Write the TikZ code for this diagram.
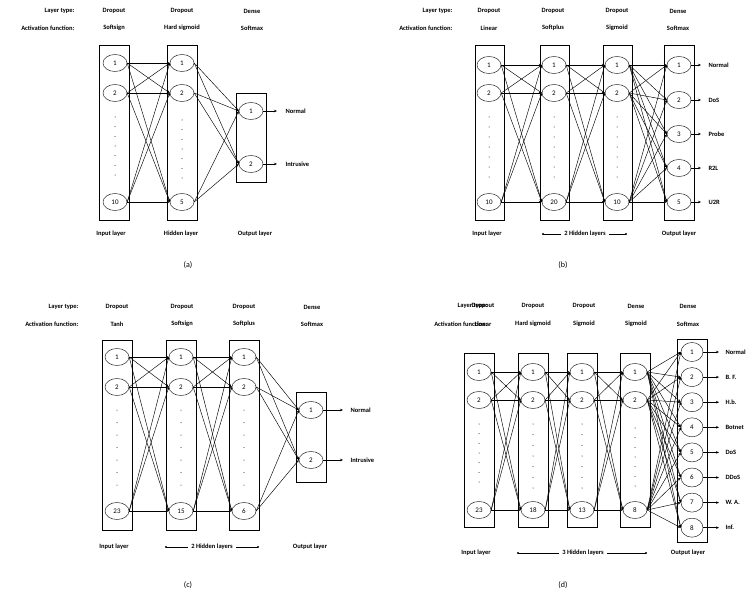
\documentclass[tikz,border=0pt]{standalone}
\usepackage{fontspec}
\setmainfont{Carlito}
\usetikzlibrary{arrows.meta,shapes.geometric}
\begin{document}
\begin{tikzpicture}[x=1pt,y=-1pt,
  neu/.style={draw,ellipse,minimum width=24pt,minimum height=17pt,inner sep=0pt,font=\fontsize{7}{8}\selectfont},
  neo/.style={neu,minimum width=22pt,minimum height=19pt},
  lbl/.style={font=\bfseries\fontsize{6.5}{8}\selectfont},
  captxt/.style={font=\fontsize{8}{10}\selectfont\rmfamily},
  con/.style={-{Stealth[length=3pt,width=2.5pt]},line width=0.45pt},
  box/.style={line width=0.7pt}]
\path[use as bounding box] (0,0) rectangle (752,599);
\newcommand\dotsat[3]{\foreach \k in {0,...,6}{\fill (#1,{#2+\k*(#3-#2)/6}) circle (0.5);}}
% ===== (a)
\node[lbl,anchor=east] (ta) at (78,11) {Layer type:};
\node[lbl,anchor=east] (fa) at (78,28) {Activation function:};
\foreach \x/\t/\f [count=\c] in {114/Dropout/Softsign,182/Dropout/Hard sigmoid,252/Dense/Softmax}{
  \node[lbl] (at\c) at (\x,11) {\t}; \node[lbl] (af\c) at (\x,28) {\f};}
\draw[box] (99,45) rectangle (129,220);
\draw[box] (167,45) rectangle (197,220);
\draw[box] (236,93) rectangle (266,182);
\foreach \y/\l [count=\i] in {63/1,93/2,202/10} \node[neu] (a0\i) at (115,\y) {\l};
\foreach \y/\l [count=\i] in {63/1,93/2,202/5} \node[neu] (a1\i) at (182,\y) {\l};
\foreach \y/\l [count=\i] in {111/1,164/2} \node[neu] (a2\i) at (251,\y) {\l};
\dotsat{115}{117}{175}\dotsat{182}{120}{178}
\foreach \i in {1,2,3}{\foreach \j in {1,2,3}{\draw[con] (a0\i.east) -- (a1\j.west);}
  \foreach \j in {1,2}{\draw[con] (a1\i.east) -- (a2\j.west);}}
\coordinate (ae1) at (277,111); \coordinate (ae2) at (277,164);
\draw[con] (a21.east) -- (ae1); \draw[con] (a22.east) -- (ae2);
\node[lbl,anchor=west] (an1) at (282,111) {Normal};
\node[lbl,anchor=west] (an2) at (282,164) {Intrusive};
\node[lbl] (ab1) at (111,234) {Input layer};
\node[lbl] (ab2) at (181,234) {Hidden layer};
\node[lbl] (ab3) at (255,234) {Output layer};
\node[captxt] (ca) at (188,265) {(a)};
% ===== (b)
\node[lbl,anchor=east] (tb) at (456,11) {Layer type:};
\node[lbl,anchor=east] (fb) at (456,28) {Activation function:};
\foreach \x/\t/\f [count=\c] in {489/Dropout/Linear,553/Dropout/Softplus,617/Dropout/Sigmoid,678/Dense/Softmax}{
  \node[lbl] (bt\c) at (\x,11) {\t}; \node[lbl] (bf\c) at (\x,28) {\f};}
\foreach \x in {475,540,603}{\draw[box] (\x,45) rectangle (\x+29,220);}
\draw[box] (664,45) rectangle (694,220);
\foreach \y/\l [count=\i] in {65/1,93/2,202/10} \node[neu] (b0\i) at (489,\y) {\l};
\foreach \y/\l [count=\i] in {65/1,93/2,202/20} \node[neu] (b1\i) at (554,\y) {\l};
\foreach \y/\l [count=\i] in {65/1,93/2,202/10} \node[neu] (b2\i) at (617,\y) {\l};
\foreach \y/\l [count=\i] in {65/1,100/2,134/3,168/4,202/5} \node[neu] (b3\i) at (679,\y) {\l};
\dotsat{489}{117}{177}\dotsat{554}{117}{177}\dotsat{617}{117}{177}
\foreach \i in {1,2,3}{\foreach \j in {1,2,3}{\draw[con] (b0\i.east) -- (b1\j.west);\draw[con] (b1\i.east) -- (b2\j.west);}
  \foreach \j in {1,...,5}{\draw[con] (b2\i.east) -- (b3\j.west);}}
\foreach \y/\t [count=\i] in {65/Normal,100/DoS,134/Probe,168/R2L,202/U2R}{
  \coordinate (be\i) at (701,\y); \draw[con] (b3\i.east) -- (be\i);
  \node[lbl,anchor=west] (bn\i) at (705,\y) {\t};}
\node[lbl] (bb1) at (487,234) {Input layer};
\node[lbl] (bb2) at (585,234) {2 Hidden layers};
\coordinate (bl1) at (543,234); \coordinate (bl2) at (626,234);
\draw (bl1) -- (bb2.west) (bb2.east) -- (bl2);
\fill (bl1) circle (1.2) (bl2) circle (1.2);
\node[lbl] (bb3) at (679,234) {Output layer};
\node[captxt] (cb) at (563,265) {(b)};
% ===== (c)
\node[lbl,anchor=east] (tc) at (82,307) {Layer type:};
\node[lbl,anchor=east] (fc) at (82,324) {Activation function:};
\foreach \x/\t/\f [count=\c] in {117/Dropout/Tanh,182/Dropout/Softsign,244/Dropout/Softplus,312/Dense/Softmax}{
  \node[lbl] (ct\c) at (\x,307) {\t}; \node[lbl] (cf\c) at (\x,324) {\f};}
\foreach \x in {102,166,229}{\draw[box] (\x,340) rectangle (\x+30,530);}
\draw[box] (296,392) rectangle (326,482);
\foreach \y/\l [count=\i] in {357/1,387/2,511/23} \node[neu] (c0\i) at (117,\y) {\l};
\foreach \y/\l [count=\i] in {357/1,387/2,511/15} \node[neu] (c1\i) at (181,\y) {\l};
\foreach \y/\l [count=\i] in {357/1,387/2,511/6} \node[neu] (c2\i) at (244,\y) {\l};
\foreach \y/\l [count=\i] in {410/1,460/2} \node[neu] (c3\i) at (311,\y) {\l};
\dotsat{117}{410}{485}\dotsat{181}{410}{485}\dotsat{244}{410}{485}
\foreach \i in {1,2,3}{\foreach \j in {1,2,3}{\draw[con] (c0\i.east) -- (c1\j.west);\draw[con] (c1\i.east) -- (c2\j.west);}
  \foreach \j in {1,2}{\draw[con] (c2\i.east) -- (c3\j.west);}}
\foreach \y/\t [count=\i] in {410/Normal,460/Intrusive}{
  \coordinate (ce\i) at (343,\y); \draw[con] (c3\i.east) -- (ce\i);
  \node[lbl,anchor=west] (cn\i) at (347,\y) {\t};}
\node[lbl] (cb1) at (114,547) {Input layer};
\node[lbl] (cb2) at (212,547) {2 Hidden layers};
\coordinate (cl1) at (166,547); \coordinate (cl2) at (258,547);
\draw (cl1) -- (cb2.west) (cb2.east) -- (cl2);
\fill (cl1) circle (1.2) (cl2) circle (1.2);
\node[lbl] (cb3) at (310,547) {Output layer};
\node[captxt] (cc) at (188,585) {(c)};
% ===== (d)
\node[lbl,anchor=east] (td) at (491,306) {Layer type:};
\node[lbl,anchor=east] (fd) at (491,324) {Activation function:};
\foreach \x/\t/\f [count=\c] in {483/Dropout/Linear,533/Dropout/Hard sigmoid,584/Dropout/Sigmoid,636/Dense/Sigmoid,688/Dense/Softmax}{
  \node[lbl] (dt\c) at (\x,306) {\t}; \node[lbl] (df\c) at (\x,324) {\f};}
\foreach \x in {464,518,567,620}{\draw[box] (\x,353) rectangle (\x+30,527);}
\draw[box] (677,339) rectangle (707,542);
\foreach \y/\l [count=\i] in {372/1,400/2,510/23} \node[neu] (d0\i) at (479,\y) {\l};
\foreach \y/\l [count=\i] in {372/1,400/2,510/18} \node[neu] (d1\i) at (533,\y) {\l};
\foreach \y/\l [count=\i] in {372/1,400/2,510/13} \node[neu] (d2\i) at (582,\y) {\l};
\foreach \y/\l [count=\i] in {372/1,400/2,510/8} \node[neu] (d3\i) at (635,\y) {\l};
\dotsat{479}{424}{482}\dotsat{533}{424}{488}\dotsat{582}{424}{488}\dotsat{635}{428}{486}
\foreach \i in {1,2,3}{\foreach \j in {1,2,3}{\draw[con] (d0\i.east) -- (d1\j.west);\draw[con] (d1\i.east) -- (d2\j.west);\draw[con] (d2\i.east) -- (d3\j.west);}}
\foreach \t [count=\i] in {Normal,B. F.,H.b.,Botnet,DoS,DDoS,W. A.,Inf.}{
  \node[neo] (d4\i) at (692,{352+(\i-1)*25.1}) {\i};
  \coordinate (de\i) at (719,{352+(\i-1)*25.1}); \draw[con] (d4\i.east) -- (de\i);
  \node[lbl,anchor=west] (dn\i) at (722,{352+(\i-1)*25.1}) {\t};
  \foreach \k in {1,2,3}{\draw[con] (d3\k.east) -- (d4\i.west);}}
\node[lbl] (db1) at (476,553) {Input layer};
\node[lbl] (db2) at (583,553) {3 Hidden layers};
\coordinate (dl1) at (518,553); \coordinate (dl2) at (646,553);
\draw (dl1) -- (db2.west) (db2.east) -- (dl2);
\fill (dl1) circle (1.2) (dl2) circle (1.2);
\node[lbl] (db3) at (688,553) {Output layer};
\node[captxt] (cd) at (563,585) {(d)};
\end{tikzpicture}
\end{document}
